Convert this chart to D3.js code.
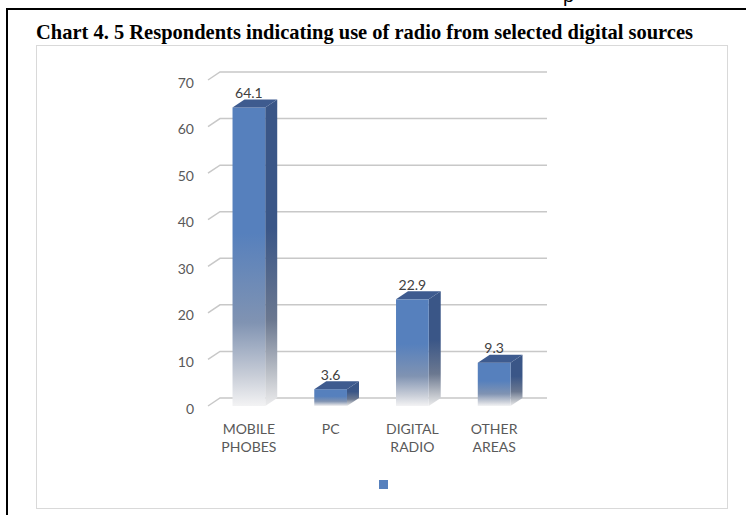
<!DOCTYPE html>
<html>
<head>
<meta charset="utf-8">
<script src="https://cdn.jsdelivr.net/npm/d3@7"></script>
<style>
  html, body { margin: 0; padding: 0; background: #fff; }
  svg { display: block; }
</style>
</head>
<body>
<script>
// Chart data
const categories = ["MOBILE PHOBES", "PC", "DIGITAL RADIO", "OTHER AREAS"];
const values = [64.1, 3.6, 22.9, 9.3];
const yTicks = [0, 10, 20, 30, 40, 50, 60, 70];
const titleText = "Chart 4. 5 Respondents indicating use of radio from selected digital sources";

const W = 746, H = 515;
const svg = d3.select("body").append("svg").attr("width", W).attr("height", H);

// page edge lines and the tail of a glyph from the line above
svg.append("text").attr("x", 563).attr("y", 1.5)
  .attr("font-family", "Liberation Sans, Arial, sans-serif").attr("font-size", 20)
  .attr("fill", "#000").text("p");
svg.append("line").attr("x1", 6).attr("x2", W).attr("y1", 9).attr("y2", 9)
  .attr("stroke", "#000").attr("stroke-width", 2);
svg.append("line").attr("x1", 7).attr("x2", 7).attr("y1", 8).attr("y2", H)
  .attr("stroke", "#000").attr("stroke-width", 2);

// title
svg.append("text").attr("x", 36).attr("y", 39)
  .attr("font-family", "Liberation Serif, 'Times New Roman', serif")
  .attr("font-weight", "bold").attr("font-size", 22)
  .attr("textLength", 657).attr("lengthAdjust", "spacingAndGlyphs")
  .attr("fill", "#000").text(titleText);

// chart frame
svg.append("rect").attr("x", 36.5).attr("y", 45.5).attr("width", 691).attr("height", 463)
  .attr("fill", "#fff").attr("stroke", "#d9d9d9").attr("stroke-width", 1);

// 3D geometry: back wall offset from the front plane
const DX = 12, DY = 8;
const y = d3.scaleLinear().domain([0, 70]).range([398, 72]); // back wall
const x = d3.scaleBand().domain(categories).range([208, 535])
  .paddingInner(0.6).paddingOuter(0.3); // front plane

const font = "Lato, 'Open Sans', sans-serif";

// gridlines: side-wall diagonal + back-wall horizontal
const grid = svg.append("g").attr("stroke", "#c8c8c8").attr("stroke-width", 1.5).attr("fill", "none");
yTicks.forEach(t => {
  grid.append("path").attr("d", `M${208},${y(t) + DY}L${208 + DX},${y(t)}L${535 + DX},${y(t)}`);
});

// y tick labels
svg.append("g").selectAll("text").data(yTicks).join("text")
  .attr("x", 194).attr("y", d => y(d) + 15.5)
  .attr("text-anchor", "end").attr("font-family", font).attr("font-size", 14)
  .attr("fill", "#595959").text(d => d);

// gradients for the fading bars
const defs = svg.append("defs");
const gFront = defs.append("linearGradient").attr("id", "gFront")
  .attr("x1", 0).attr("x2", 0).attr("y1", 0).attr("y2", 1);
[[0, "#5680bd"], [0.42, "#5680bd"], [0.72, "#8093b2"], [0.9, "#c9ced8"], [1, "#f3f3f4"]]
  .forEach(([o, c]) => gFront.append("stop").attr("offset", o).attr("stop-color", c));
const gSide = defs.append("linearGradient").attr("id", "gSide")
  .attr("x1", 0).attr("x2", 0).attr("y1", 0).attr("y2", 1);
[[0, "#3a5687"], [0.42, "#3a5687"], [0.72, "#6b7890"], [0.9, "#bfc3ca"], [1, "#ececed"]]
  .forEach(([o, c]) => gSide.append("stop").attr("offset", o).attr("stop-color", c));

const data = categories.map((c, i) => ({ c, v: values[i] }));
const bars = svg.append("g").selectAll("g").data(data).join("g");

bars.each(function (d) {
  const g = d3.select(this);
  const x0 = x(d.c), w = x.bandwidth();
  const top = y(d.v) + DY, bot = y(0) + DY;
  // side face
  g.append("path")
    .attr("d", `M${x0 + w},${top}L${x0 + w + DX},${top - DY}L${x0 + w + DX},${bot - DY}L${x0 + w},${bot}Z`)
    .attr("fill", "url(#gSide)");
  // front face
  g.append("rect").attr("x", x0).attr("y", top).attr("width", w).attr("height", bot - top)
    .attr("fill", "url(#gFront)");
  // top face
  g.append("path")
    .attr("d", `M${x0},${top}L${x0 + DX},${top - DY}L${x0 + w + DX},${top - DY}L${x0 + w},${top}Z`)
    .attr("fill", "#3e5b8f");
  // value label
  g.append("text").attr("x", x0 + w / 2).attr("y", y(d.v) - 1.5)
    .attr("text-anchor", "middle").attr("font-family", font).attr("font-size", 14)
    .attr("fill", "#404040").text(d.v);
});

// category labels (wrapped on spaces)
const cat = svg.append("g").selectAll("text").data(categories).join("text")
  .attr("text-anchor", "middle").attr("font-family", font).attr("font-size", 14)
  .attr("fill", "#595959");
cat.each(function (c) {
  const t = d3.select(this);
  c.split(" ").forEach((word, i) => {
    t.append("tspan").attr("x", x(c) + x.bandwidth() / 2).attr("y", 434 + i * 18).text(word);
  });
});

// legend marker
svg.append("rect").attr("x", 379).attr("y", 480).attr("width", 9).attr("height", 9)
  .attr("fill", "#5680bd");
</script>
</body>
</html>
